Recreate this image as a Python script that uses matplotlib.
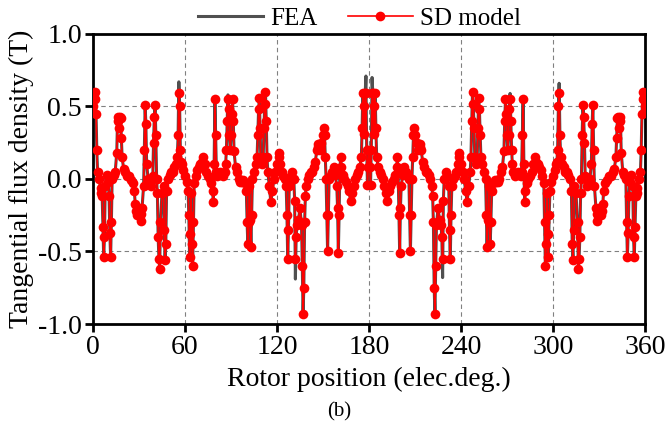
import matplotlib
matplotlib.use("Agg")
import matplotlib.pyplot as plt

# Tangential flux density vs rotor position, FEA vs SD model

plt.rcParams['font.family'] = ['Liberation Serif', 'DejaVu Serif']
plt.rcParams['axes.unicode_minus'] = False

# ---- data ----
theta = [
    0, 0.5, 1, 1.5, 2, 2.5, 3, 4, 5, 5.5, 6, 6.5, 7, 7.5, 8, 9, 10, 10.5, 11, 11.5,
    12, 12.5, 13.5, 14.5, 15.5, 16, 16.5, 17, 17.5, 18, 18.5, 19, 20, 21, 22, 23.5, 25, 26, 27, 27.5,
    28, 29, 30, 31, 31.5, 32, 33, 33.5, 34, 34.5, 35, 36, 37, 38, 39, 39.5, 40, 40.5, 41, 41.5,
    42, 42.5, 43, 43.5, 44, 45, 46, 46.5, 47, 47.5, 48, 49, 50, 51, 52, 53, 54, 55, 55.5, 56,
    56.5, 57, 57.5, 58, 59, 60, 61, 62, 62.5, 63, 63.5, 64, 64.5, 65, 65.5, 66, 67, 68, 69, 70,
    71, 72, 73, 74, 75, 76, 77, 78, 78.5, 79, 79.5, 80, 80.5, 81, 82, 83, 84, 85, 86, 86.5,
    87, 87.5, 88, 88.5, 89, 89.5, 90, 90.5, 91, 91.5, 92, 93, 94, 95, 96, 97, 98, 99, 100, 100.5,
    101, 101.5, 102, 102.5, 103, 103.5, 104, 105, 106, 107, 107.5, 108, 108.5, 109, 109.5, 110, 111, 111.5, 112, 112.5,
    113, 113.5, 114, 115, 116, 117, 118, 119, 120, 121, 121.5, 122, 123, 124, 125, 126, 126.5, 127, 127.5, 128,
    129, 130, 131, 131.5, 132, 132.5, 133, 134, 135, 136, 136.5, 137, 137.5, 138, 138.5, 139, 140, 141, 142, 143,
    144, 145, 146, 146.5, 147, 148, 149, 150, 150.5, 151, 151.5, 152, 152.5, 153, 153.5, 154, 155, 156, 157, 158,
    159, 159.5, 160, 160.5, 161, 161.5, 162, 163, 164, 165, 166, 167, 168, 169, 170, 171, 172, 173, 174, 175,
    175.5, 176, 176.5, 177, 177.5, 178, 178.5, 179, 179.5, 180,
    180.5, 181, 181.5, 182, 182.5, 183, 183.5, 184, 184.5, 185, 186, 187, 188, 189, 190, 191, 192, 193, 194, 195,
    196, 197, 198, 198.5, 199, 199.5, 200, 200.5, 201, 202, 203, 204, 205, 206, 206.5, 207, 207.5, 208, 208.5, 209,
    209.5, 210, 211, 212, 213, 213.5, 214, 215, 216, 217, 218, 219, 220, 221, 221.5, 222, 222.5, 223, 223.5, 224,
    225, 226, 227, 227.5, 228, 228.5, 229, 230, 231, 232, 232.5, 233, 233.5, 234, 235, 236, 237, 238, 238.5, 239,
    240, 241, 242, 243, 244, 245, 246, 246.5, 247, 247.5, 248, 248.5, 249, 250, 250.5, 251, 251.5, 252, 252.5, 253,
    254, 255, 256, 256.5, 257, 257.5, 258, 258.5, 259, 259.5, 260, 261, 262, 263, 264, 265, 266, 267, 268, 268.5,
    269, 269.5, 270, 270.5, 271, 271.5, 272, 272.5, 273, 273.5, 274, 275, 276, 277, 278, 279, 279.5, 280, 280.5, 281,
    281.5, 282, 283, 284, 285, 286, 287, 288, 289, 290, 291, 292, 293, 294, 294.5, 295, 295.5, 296, 296.5, 297,
    297.5, 298, 299, 300, 301, 302, 302.5, 303, 303.5, 304, 304.5, 305, 306, 307, 308, 309, 310, 311, 312, 312.5,
    313, 313.5, 314, 315, 316, 316.5, 317, 317.5, 318, 318.5, 319, 319.5, 320, 320.5, 321, 322, 323, 324, 325, 325.5,
    326, 326.5, 327, 328, 328.5, 329, 330, 331, 332, 332.5, 333, 334, 335, 336.5, 338, 339, 340, 341, 341.5, 342,
    342.5, 343, 343.5, 344, 344.5, 345.5, 346.5, 347.5, 348, 348.5, 349, 349.5, 350, 351, 352, 352.5, 353, 353.5, 354, 354.5,
    355, 356, 357, 357.5, 358, 358.5, 359, 359.5, 360,
]

b_sd = [
    0.50, 0.56, 0.60, 0.55, 0.45, 0.20, 0.05, 0.00, -0.06, -0.10, -0.12, -0.33, -0.54, -0.40, -0.05, 0.03, -0.02, -0.12, -0.37, -0.54,
    -0.30, 0.00, 0.03, 0.05, 0.18, 0.40, 0.43, 0.35, 0.43, 0.42, 0.28, 0.15, 0.07, 0.05, 0.02, 0.02, -0.01, -0.03, -0.08, -0.17,
    -0.22, -0.25, -0.20, -0.24, -0.29, -0.20, -0.05, 0.20, 0.51, 0.38, 0.10, 0.00, -0.02, -0.05, 0.02, 0.25, 0.43, 0.51, 0.30, 0.00,
    -0.10, -0.40, -0.55, -0.62, -0.30, -0.10, -0.05, -0.35, -0.56, -0.45, -0.08, 0.00, 0.03, 0.05, 0.05, 0.08, 0.10, 0.15, 0.30, 0.59,
    0.50, 0.20, 0.12, 0.10, 0.06, 0.02, -0.02, -0.08, -0.25, -0.54, -0.38, -0.10, -0.45, -0.60, -0.30, -0.03, 0.02, 0.06, 0.08, 0.10,
    0.12, 0.15, 0.10, 0.05, 0.02, 0.00, -0.03, -0.08, -0.16, 0.10, 0.55, 0.30, 0.05, 0.02, 0.03, 0.05, 0.04, 0.02, 0.05, 0.10,
    0.20, 0.40, 0.55, 0.48, 0.30, 0.20, 0.30, 0.45, 0.55, 0.40, 0.19, 0.08, 0.05, 0.00, -0.02, -0.02, -0.01, -0.03, -0.08, -0.30,
    -0.45, -0.30, -0.05, -0.28, -0.47, -0.25, 0.00, 0.05, 0.10, 0.15, 0.30, 0.48, 0.56, 0.35, 0.12, 0.10, 0.15, 0.35, 0.52, 0.60,
    0.40, 0.15, 0.05, -0.05, -0.16, -0.08, 0.00, 0.05, 0.10, 0.15, 0.18, 0.10, 0.05, 0.02, 0.00, -0.05, -0.25, -0.55, -0.35, -0.05,
    0.02, 0.05, 0.00, -0.15, -0.55, -0.40, -0.32, -0.28, -0.20, -0.32, -0.60, -0.93, -0.75, -0.30, -0.12, -0.05, 0.00, 0.03, 0.05, 0.05,
    0.08, 0.12, 0.20, 0.24, 0.22, 0.20, 0.25, 0.30, 0.35, 0.30, 0.15, 0.00, -0.25, -0.50, -0.25, 0.00, 0.03, 0.05, 0.08, 0.03,
    -0.05, -0.20, -0.51, -0.25, 0.05, 0.15, 0.08, 0.03, 0.00, -0.02, -0.05, -0.08, -0.15, -0.10, -0.05, 0.00, 0.03, 0.05, 0.08, 0.15,
    0.35, 0.59, 0.50, 0.31, 0.59, 0.59, 0.20, -0.04, 0.08, 0.20,
    0.08, -0.04, 0.20, 0.59, 0.59, 0.31, 0.50, 0.59, 0.35, 0.15, 0.08, 0.05, 0.03, 0.00, -0.05, -0.10, -0.15, -0.08, -0.05, -0.02,
    0.00, 0.03, 0.08, 0.15, 0.05, -0.25, -0.51, -0.20, -0.05, 0.03, 0.08, 0.05, 0.03, 0.00, -0.25, -0.50, -0.25, 0.00, 0.15, 0.30,
    0.35, 0.30, 0.25, 0.20, 0.22, 0.24, 0.20, 0.12, 0.08, 0.05, 0.05, 0.03, 0.00, -0.05, -0.12, -0.30, -0.75, -0.93, -0.60, -0.32,
    -0.20, -0.28, -0.32, -0.40, -0.55, -0.15, 0.00, 0.05, 0.02, -0.05, -0.35, -0.55, -0.25, -0.05, 0.00, 0.02, 0.05, 0.10, 0.18, 0.15,
    0.10, 0.05, 0.00, -0.08, -0.16, -0.05, 0.05, 0.15, 0.40, 0.60, 0.52, 0.35, 0.15, 0.10, 0.12, 0.35, 0.56, 0.48, 0.30, 0.15,
    0.10, 0.05, 0.00, -0.25, -0.47, -0.28, -0.05, -0.30, -0.45, -0.30, -0.08, -0.03, -0.01, -0.02, -0.02, 0.00, 0.05, 0.08, 0.19, 0.40,
    0.55, 0.45, 0.30, 0.20, 0.30, 0.48, 0.55, 0.40, 0.20, 0.10, 0.05, 0.02, 0.04, 0.05, 0.03, 0.02, 0.05, 0.30, 0.55, 0.10,
    -0.16, -0.08, -0.03, 0.00, 0.02, 0.05, 0.10, 0.15, 0.12, 0.10, 0.08, 0.06, 0.02, -0.03, -0.30, -0.60, -0.45, -0.10, -0.38, -0.54,
    -0.25, -0.08, -0.02, 0.02, 0.06, 0.10, 0.12, 0.20, 0.50, 0.59, 0.30, 0.15, 0.10, 0.08, 0.05, 0.05, 0.03, 0.00, -0.08, -0.45,
    -0.56, -0.35, -0.05, -0.10, -0.30, -0.62, -0.55, -0.40, -0.10, 0.00, 0.30, 0.51, 0.43, 0.25, 0.02, -0.05, -0.02, 0.00, 0.10, 0.38,
    0.51, 0.20, -0.05, -0.20, -0.29, -0.24, -0.20, -0.25, -0.22, -0.17, -0.08, -0.03, -0.01, 0.02, 0.02, 0.05, 0.07, 0.15, 0.28, 0.42,
    0.43, 0.35, 0.43, 0.40, 0.18, 0.05, 0.03, 0.00, -0.30, -0.54, -0.37, -0.12, -0.02, 0.03, -0.05, -0.40, -0.54, -0.33, -0.12, -0.10,
    -0.06, 0.00, 0.05, 0.20, 0.45, 0.55, 0.60, 0.56, 0.50,
]

# FEA follows the SD model except at the tips of some spikes
fea_tip_theta = [56, 88, 132, 178, 182, 228, 272, 304]
fea_tip_b = [0.67, 0.58, -0.69, 0.71, 0.70, -0.68, 0.59, 0.66]

tips = dict(zip(fea_tip_theta, fea_tip_b))
b_fea = [tips.get(t, b) for t, b in zip(theta, b_sd)]

# ---- plot ----
fig = plt.figure(figsize=(6.66, 4.30), dpi=100)
ax = fig.add_axes([0.1396, 0.2465, 0.8289, 0.6745])

ax.plot(theta, b_fea, color='#505050', lw=2.2, label='FEA', zorder=2)
ax.plot(theta, b_sd, color='red', lw=1.2, marker='o', markersize=7,
        markeredgewidth=0, label='SD model', zorder=3)

ax.set_xlim(0, 360)
ax.set_ylim(-1.0, 1.0)
ax.set_xticks([0, 60, 120, 180, 240, 300, 360])
ax.set_yticks([-1.0, -0.5, 0.0, 0.5, 1.0])
ax.set_yticklabels(['-1.0', '-0.5', '0.0', '0.5', '1.0'])
ax.grid(True, color='#808080', linestyle=(0, (4, 3)), lw=0.8)

for s in ax.spines.values():
    s.set_linewidth(2.0)
ax.tick_params(direction='out', length=6, width=2, labelsize=20, pad=2)

ax.set_xlabel('Rotor position (elec.deg.)', fontsize=20, labelpad=5)
ax.set_ylabel('Tangential flux density (T)', fontsize=20, labelpad=3)

fig.legend(loc='upper center', bbox_to_anchor=(0.54, 1.035), ncol=2,
           frameon=False, fontsize=18, handlelength=2.6, columnspacing=1.2,
           handletextpad=0.3)

fig.text(0.51, 0.043, '(b)', ha='center', va='center', fontsize=15)

fig.savefig('out.png', dpi=100)
